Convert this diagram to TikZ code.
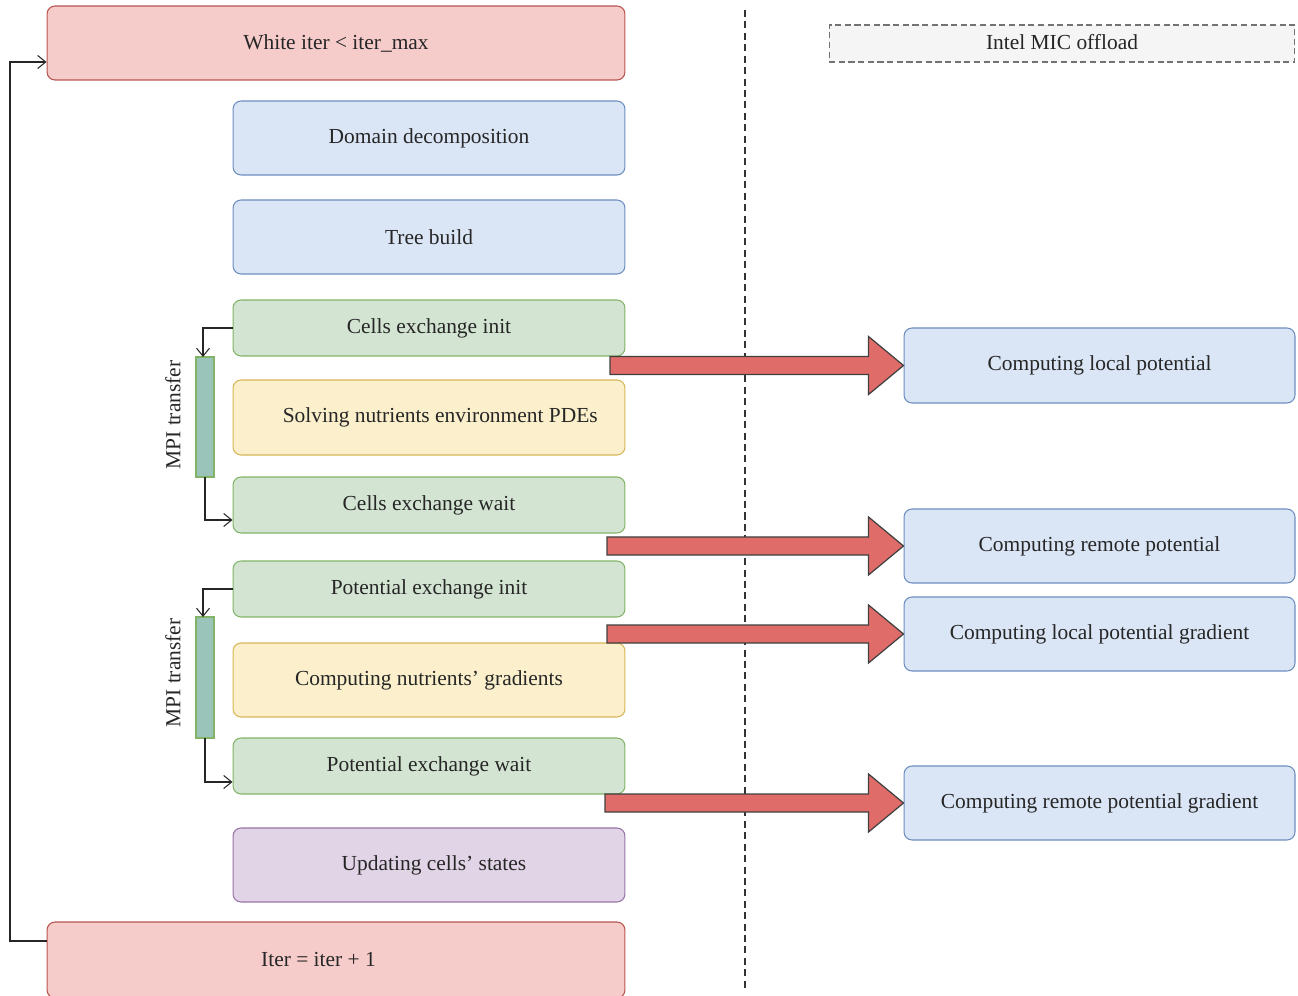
\documentclass[tikz,border=0pt]{standalone}
\usepackage{fontspec}
\setmainfont{Liberation Serif}
\usetikzlibrary{arrows.meta,calc}

\definecolor{redfill}{HTML}{F6CCCB}
\definecolor{redline}{HTML}{B85450}
\definecolor{bluefill}{HTML}{DAE6F6}
\definecolor{blueline}{HTML}{6C8EBF}
\definecolor{greenfill}{HTML}{D3E5D2}
\definecolor{greenline}{HTML}{82B366}
\definecolor{yellowfill}{HTML}{FBF0CB}
\definecolor{yellowline}{HTML}{D6B656}
\definecolor{purplefill}{HTML}{E1D4E6}
\definecolor{purpleline}{HTML}{9673A6}
\definecolor{barfill}{HTML}{9AC3BA}
\definecolor{arrowfill}{HTML}{E06C69}
\definecolor{offloadfill}{HTML}{F4F5F4}

\tikzset{
  box/.style={draw, rounded corners=0.16cm, line width=0.6pt, text=black!85,
    font=\fontsize{12.2}{14}\selectfont, inner sep=0pt},
  wide/.style={box, minimum width=11.56cm},
  narrow/.style={box, minimum width=7.84cm},
  redbox/.style={fill=redfill, draw=redline},
  bluebox/.style={fill=bluefill, draw=blueline},
  greenbox/.style={fill=greenfill, draw=greenline},
  yellowbox/.style={fill=yellowfill, draw=yellowline},
  purplebox/.style={fill=purplefill, draw=purpleline},
  tall/.style={minimum height=1.48cm},
  short/.style={minimum height=1.12cm},
  mpibar/.style={fill=barfill, draw=greenline, line width=0.6pt},
  link/.style={draw=black!85, line width=0.6pt, -{Straight Barb[length=1.6mm,width=2.6mm]}},
  bigarrow/.style={fill=arrowfill, draw=black!75, line width=0.7pt, line join=miter},
}

% block arrow: tail x, tip
\newcommand{\offloadarrow}[2]{%
  \filldraw[bigarrow] ($(#1 |- #2)+(0,-9)$) -- ($(#2)+(-35,-9)$) -- ($(#2)+(-35,-29)$)
    -- (#2) -- ($(#2)+(-35,29)$) -- ($(#2)+(-35,9)$) -- ($(#1 |- #2)+(0,9)$) -- cycle;}

\begin{document}
\begin{tikzpicture}[x=0.02cm, y=-0.02cm]
    \useasboundingbox (0,0) rectangle (1298,996);

    % Host side
    \node[wide, redbox, tall] (while) at (336,43) {White iter < iter\_max};
    \node[narrow, bluebox, tall] (domain) at (429,138) {Domain decomposition};
    \node[narrow, bluebox, tall] (tree) at (429,237) {Tree build};
    \node[narrow, greenbox, short] (cinit) at (429,328) {Cells exchange init};
    \node[narrow, yellowbox, minimum height=1.5cm] (pdes) at (429,417.5) {\hspace{0.45cm}Solving nutrients environment PDEs};
    \node[narrow, greenbox, short] (cwait) at (429,505) {Cells exchange wait};
    \node[narrow, greenbox, short] (pinit) at (429,589) {Potential exchange init};
    \node[narrow, yellowbox, tall] (grads) at (429,680) {Computing nutrients’ gradients};
    \node[narrow, greenbox, short] (pwait) at (429,766) {Potential exchange wait};
    \node[narrow, purplebox, tall] (update) at (429,865) {\hspace{0.2cm}Updating cells’ states};
    \node[wide, redbox, minimum height=1.52cm] (incr) at (336,960) {\hspace{-0.7cm}Iter = iter + 1};

    % Separator
    \draw[black!80, line width=0.7pt, dash pattern=on 4pt off 2.5pt] (745,10) -- (745,992);

    % Offload side
    \node[box, fill=offloadfill, draw=black!55, dash pattern=on 3.5pt off 2pt,
      rounded corners=0pt, minimum width=9.32cm, minimum height=0.74cm] (mic) at (1062,43.5) {\raisebox{0.06cm}{Intel MIC offload}};
    \node[box, bluebox, minimum width=7.82cm, minimum height=1.5cm] (clp) at (1099.5,365.5) {Computing local potential};
    \node[box, bluebox, minimum width=7.82cm, tall] (crp) at (1099.5,546) {Computing remote potential};
    \node[box, bluebox, minimum width=7.82cm, tall] (clpg) at (1099.5,634) {Computing local potential gradient};
    \node[box, bluebox, minimum width=7.82cm, tall] (crpg) at (1099.5,803) {Computing remote potential gradient};

    % MPI transfers
    \draw[mpibar] (196,357) rectangle (214,477);
    \draw[mpibar] (196,617) rectangle (214,738);
    \coordinate (bar1top) at (203,357);
    \coordinate (bar1bot) at (205,477);
    \coordinate (bar2top) at (203,617);
    \coordinate (bar2bot) at (205,738);
    \node[rotate=90, text=black!85, font=\fontsize{12.2}{14}\selectfont] (mpi1) at (173,415) {MPI transfer};
    \node[rotate=90, text=black!85, font=\fontsize{12.2}{14}\selectfont] (mpi2) at (173,673) {MPI transfer};

    \draw[link] (cinit.west) -| (bar1top);
    \draw[link] (bar1bot) |- ($(cwait.west)+(0,15)$);
    \draw[link] (pinit.west) -| (bar2top);
    \draw[link] (bar2bot) |- ($(pwait.west)+(0,16)$);

    % Loop back
    \draw[link] ($(incr.west)+(0,-19)$) -| (10,62) -- ($(while.west)+(0,19)$);

    % Offload arrows
    \coordinate (t1) at (610,0);
    \coordinate (t2) at (607,0);
    \coordinate (t3) at (607,0);
    \coordinate (t4) at (605,0);
    \offloadarrow{t1}{clp.west}
    \offloadarrow{t2}{crp.west}
    \offloadarrow{t3}{clpg.west}
    \offloadarrow{t4}{crpg.west}
\end{tikzpicture}
\end{document}
